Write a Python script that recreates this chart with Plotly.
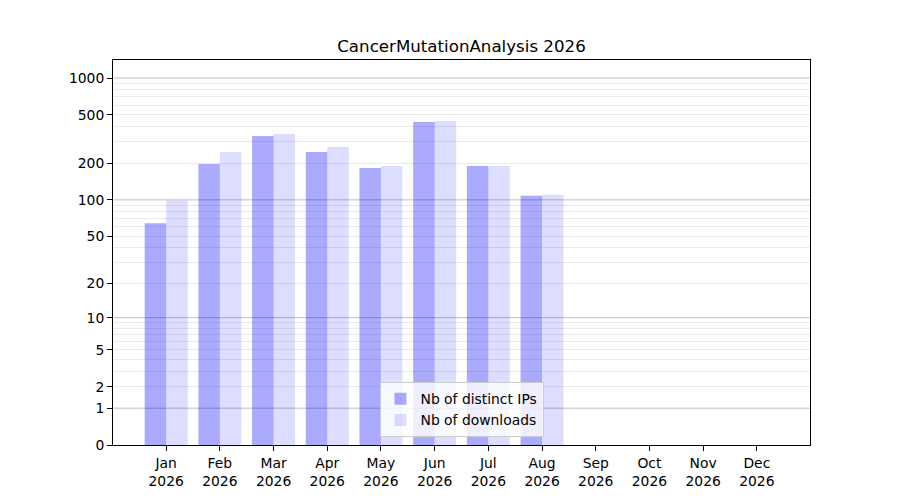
import numpy as np
import plotly.graph_objects as go

months = ["Jan", "Feb", "Mar", "Apr", "May", "Jun", "Jul", "Aug", "Sep", "Oct", "Nov", "Dec"]
year = "2026"
distinct_ips = [64, 197, 335, 248, 183, 437, 190, 108, 0, 0, 0, 0]
downloads = [99, 248, 348, 272, 190, 445, 190, 110, 0, 0, 0, 0]
tick_values = [0, 1, 2, 5, 10, 20, 50, 100, 200, 500, 1000]
decade_values = [1, 10, 100, 1000]
minor_values = [m * d for d in (1, 10, 100) for m in range(2, 10)]


def symlog(v):
    return np.log10(1 + np.asarray(v, dtype=float))


cats = [f"{m}<br>{year}" for m in months]

fig = go.Figure()
fig.add_trace(go.Bar(x=cats, y=symlog(distinct_ips), name="Nb of distinct IPs",
                     marker=dict(color="rgba(0,0,255,0.333)", line=dict(width=0)),
                     hoverinfo="skip"))
fig.add_trace(go.Bar(x=cats, y=symlog(downloads), name="Nb of downloads",
                     marker=dict(color="rgba(0,0,255,0.133)", line=dict(width=0)),
                     hoverinfo="skip"))

for yv in symlog(decade_values):
    fig.add_hline(y=float(yv), line=dict(color="#bfbfbf", width=1), layer="below")

yr = [0, 3.148]
font = dict(family="DejaVu Sans", size=13.89, color="black")

W, H = 892, 492
fig.update_layout(
    width=W, height=H,
    margin=dict(l=105, r=90, t=52, b=55),
    paper_bgcolor="white", plot_bgcolor="rgba(0,0,0,0)",
    barmode="group", bargap=0.2, bargroupgap=0,
    font=font,
    title=dict(text="CancerMutationAnalysis 2026", x=0.5, xref="paper", xanchor="center",
               y=1 - 38 / H, yanchor="middle", yref="container",
               font=dict(family="DejaVu Sans", size=16.67, color="black")),
    showlegend=True,
    legend=dict(x=0.5, xanchor="center", y=0.02, yanchor="bottom",
                bgcolor="rgba(255,255,255,0.8)", bordercolor="#cccccc", borderwidth=1,
                font=font, traceorder="normal"),
    xaxis=dict(type="category", range=[-0.99, 11.99], showgrid=False,
               showline=True, linecolor="black", linewidth=1, mirror=True,
               ticks="outside", ticklen=5, tickcolor="black", tickwidth=1,
               tickfont=font, zeroline=False),
    yaxis=dict(range=yr, tickmode="array", tickvals=symlog(tick_values).tolist(),
               ticktext=[str(t) for t in tick_values], showgrid=False, zeroline=False,
               showline=True, linecolor="black", linewidth=1, mirror=True,
               ticks="outside", ticklen=5, tickcolor="black", tickwidth=1, tickfont=font,
               minor=dict(tickmode="array", tickvals=symlog(minor_values).tolist(),
                          showgrid=True, gridcolor="#ebebeb", gridwidth=1, ticks="")),
)

fig.write_html("out.html")
